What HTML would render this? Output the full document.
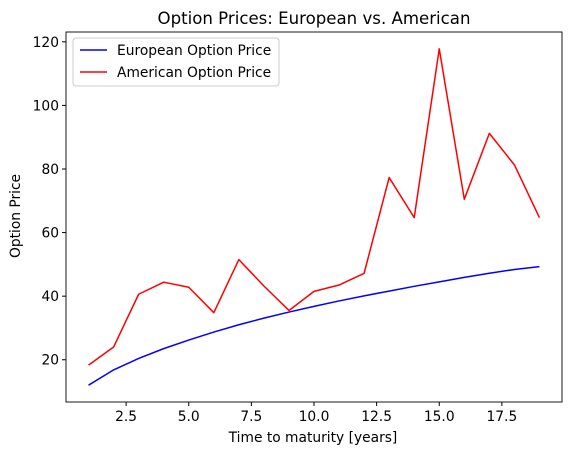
<!DOCTYPE html>
<html><head><meta charset="utf-8"><style>
body{margin:0;background:#fff;}
svg text{font-family:"DejaVu Sans","Liberation Sans",sans-serif;}
</style></head><body>
<svg id="chart" width="571" height="455" xmlns="http://www.w3.org/2000/svg">
<rect width="571" height="455" fill="#fff"/>
<text x="314" y="24" font-size="16.6" text-anchor="middle">Option Prices: European vs. American</text>
<g id="plot"></g>
<rect x="66" y="32" width="496" height="370" fill="none" stroke="#000" stroke-width="0.9"/>
<text x="313" y="442" font-size="13.8" text-anchor="middle">Time to  maturity [years]</text>
<text x="20" y="216" font-size="13.8" text-anchor="middle" transform="rotate(-90 20 216)">Option Price</text>
<g>
<rect x="73" y="38" width="206" height="48" rx="3" fill="#fff" stroke="#ccc"/>
<line x1="80" y1="50" x2="107" y2="50" stroke="blue" stroke-width="1.5"/>
<text x="117" y="55" font-size="13.8">European Option Price</text>
<line x1="80" y1="72" x2="107" y2="72" stroke="red" stroke-width="1.5"/>
<text x="117" y="77" font-size="13.8">American Option Price</text>
</g>
</svg>
<script>
const years=[1,2,3,4,5,6,7,8,9,10,11,12,13,14,15,16,17,18,19];
const european=[12,16.8,20.4,23.5,26.2,28.7,31,33.1,35,36.8,38.5,40.1,41.6,43.1,44.5,45.9,47.2,48.4,49.3];
const american=[18.3,24,40.6,44.4,42.8,34.8,51.5,43.2,35.5,41.5,43.5,47.2,77.3,64.7,117.8,70.5,91.2,81.3,64.7];
const xTicks=[2.5,5,7.5,10,12.5,15,17.5];
const xTickLabels=["2.5","5.0","7.5","10.0","12.5","15.0","17.5"];
const yTicks=[20,40,60,80,100,120];
const yTickLabels=["20","40","60","80","100","120"];
const L=66,R=562,T=32,B=402;
const allX=years, allY=european.concat(american);
const xmin=Math.min(...allX),xmax=Math.max(...allX),ymin=Math.min(...allY),ymax=Math.max(...allY);
const xm=(xmax-xmin)*0.05, ym=(ymax-ymin)*0.05;
function sx(v){return L+(v-(xmin-xm))/((xmax+xm)-(xmin-xm))*(R-L);}
function sy(v){return B-(v-(ymin-ym))/((ymax+ym)-(ymin-ym))*(B-T);}
const NS="http://www.w3.org/2000/svg";
const g=document.getElementById('plot');
function mk(tag,attrs){const e=document.createElementNS(NS,tag);for(const k in attrs)e.setAttribute(k,attrs[k]);g.appendChild(e);return e;}
xTicks.forEach((t,i)=>{
  const l=mk('line',{x1:sx(t),x2:sx(t),y1:B,y2:B+4,stroke:'#000'});
  
  
  const tx=mk('text',{x:sx(t),y:B+19,'font-size':13.8,'text-anchor':'middle'});
  tx.textContent=xTickLabels[i];
  
  
});
yTicks.forEach((t,i)=>{
  const l=mk('line',{x1:L-4,x2:L,y1:sy(t),y2:sy(t),stroke:'#000'});
  
  
  const tx=mk('text',{x:L-7,y:sy(t)+5,'font-size':13.8,'text-anchor':'end'});
  tx.textContent=yTickLabels[i];
  
  
});
function series(vals,color,name){
  const p=mk('polyline',{points:years.map((x,i)=>sx(x)+','+sy(vals[i])).join(' '),fill:'none',stroke:color,'stroke-width':1.5,'stroke-linejoin':'round'});
  
  
}
series(european,'blue','european-price-line');
series(american,'red','american-price-line');
</script>
</body></html>
